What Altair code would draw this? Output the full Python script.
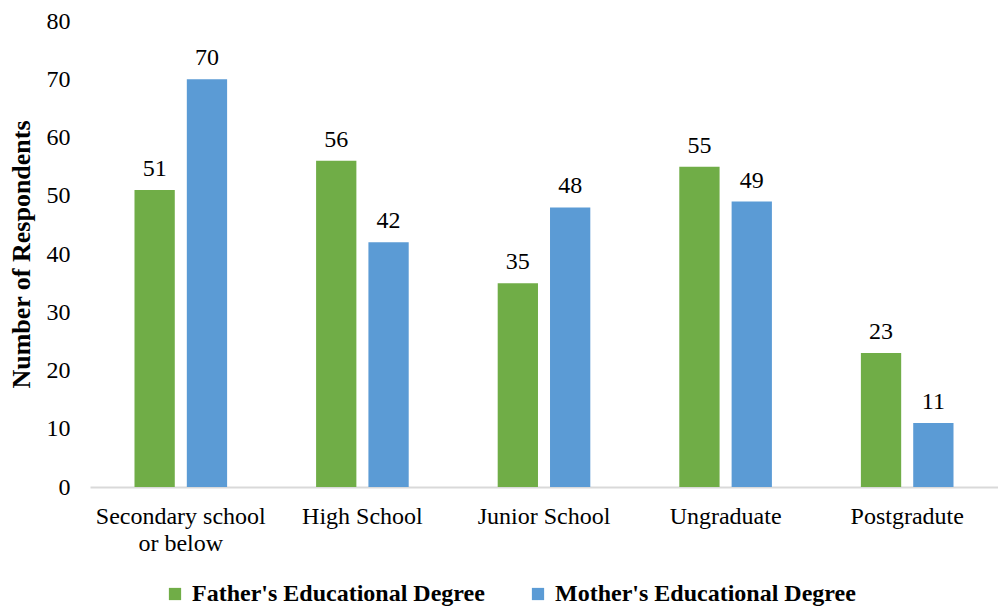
import altair as alt
import pandas as pd

categories = ["Secondary school or below", "High School", "Junior School", "Ungraduate", "Postgradute"]
series = ["Father's Educational Degree", "Mother's Educational Degree"]
father = [51, 56, 35, 55, 23]
mother = [70, 42, 48, 49, 11]
colors = ["#70AD47", "#5B9BD5"]

rows = []
for c, f, m in zip(categories, father, mother):
    rows.append({"category": c, "series": series[0], "value": f})
    rows.append({"category": c, "series": series[1], "value": m})
df = pd.DataFrame(rows)

FONT = "'Times New Roman', 'Liberation Serif', 'DejaVu Serif', serif"

x = alt.X("category:N", sort=categories, title=None,
          scale=alt.Scale(paddingInner=0.49, paddingOuter=0.245),
          axis=alt.Axis(labelAngle=0, labelFontSize=24, labelFont=FONT, labelColor="black",
                        ticks=False, domainColor="#D9D9D9", domainWidth=2, labelPadding=17,
                        labelLineHeight=27,
                        labelExpr="datum.value == 'Secondary school or below' ? ['Secondary school', 'or below'] : datum.value"))
xo = alt.XOffset("series:N", sort=series, scale=alt.Scale(paddingInner=0.23, paddingOuter=0))
y = alt.Y("value:Q", scale=alt.Scale(domain=[0, 80]),
          axis=alt.Axis(title="Number of Respondents", values=list(range(0, 81, 10)), grid=False,
                        domain=False, ticks=False, labelFontSize=24, labelFont=FONT, labelColor="black",
                        labelPadding=20, titleFont=FONT, titleFontSize=26, titleFontWeight="bold",
                        titleColor="black", titlePadding=12))

bars = alt.Chart(df).mark_bar().encode(
    x=x, xOffset=xo, y=y,
    color=alt.Color("series:N", sort=series, scale=alt.Scale(domain=series, range=colors),
                    legend=alt.Legend(title=None, orient="none", direction="horizontal",
                                      legendX=73, legendY=561,
                                      symbolType="square", symbolSize=150, symbolStrokeWidth=0,
                                      labelFont=FONT, labelFontSize=24, labelFontWeight="bold",
                                      labelColor="black", labelOffset=5, columnPadding=41,
                                      labelLimit=500))
)

text = alt.Chart(df).mark_text(baseline="alphabetic", dy=-14, font=FONT, fontSize=24, color="black").encode(
    x=x, xOffset=xo, y=y, text="value:Q"
)

chart = (bars + text).properties(
    width=908, height=466,
    autosize=alt.AutoSizeParams(type="none"),
    padding={"left": 90, "top": 21, "right": 0, "bottom": 120},
    background="white",
).configure_view(stroke=None)

chart.save("out.html", embed_options={"renderer": "svg", "actions": False})
